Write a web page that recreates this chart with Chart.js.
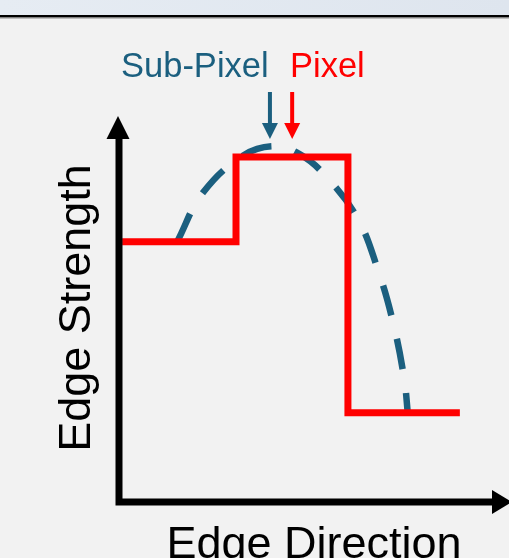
<!DOCTYPE html>
<html>
<head>
<meta charset="utf-8">
<script src="https://cdn.jsdelivr.net/npm/chart.js@4.4.1/dist/chart.umd.min.js"></script>
<style>
html, body { margin: 0; padding: 0; background: #f2f2f2; }
#wrap { width: 509px; height: 558px; }
</style>
</head>
<body>
<div id="wrap"><canvas id="edgeChart" width="509" height="558"></canvas></div>
<script>
// pixel edge profile (stepped)
const pixelX = [0.08, 3.0, 5.87, 8.74];
const pixelY = [6.74, 8.94, 2.31, 2.31];
// sub-pixel profile (dashed curve)
const subPixelX = [1.49, 2.15, 3.21, 4.0, 4.62, 5.23, 6.10, 6.64, 7.03, 7.31, 7.41];
const subPixelY = [6.74, 8.01, 8.99, 9.22, 9.02, 8.52, 7.38, 6.01, 4.64, 3.21, 2.25];
const markerLabels = ["Sub-Pixel", "Pixel"];
const markerX = [3.87, 4.44];
const axisTitles = ["Edge Direction", "Edge Strength"];

const BLUE = "#1b5f7f";
const RED = "#ff0000";
const FONT = "'Liberation Sans', Arial, sans-serif";

function toPoints(xs, ys) {
    return xs.map((x, i) => ({ x: x, y: ys[i] }));
}

function arrowHead(ctx, x, y, dir, w, len) {
    // dir: 'up', 'down', 'right'
    ctx.beginPath();
    if (dir == 'up') {
        ctx.moveTo(x, y); ctx.lineTo(x - w / 2, y + len); ctx.lineTo(x + w / 2, y + len);
    } else if (dir == 'down') {
        ctx.moveTo(x, y); ctx.lineTo(x - w / 2, y - len); ctx.lineTo(x + w / 2, y - len);
    } else {
        ctx.moveTo(x, y); ctx.lineTo(x - len, y - w / 2); ctx.lineTo(x - len, y + w / 2);
    }
    ctx.closePath();
    ctx.fill();
}

const decor = {
    id: 'decor',
    beforeDraw(chart) {
        const ctx = chart.ctx;
        ctx.save();
        ctx.fillStyle = "#f2f2f2";
        ctx.fillRect(0, 0, chart.width, chart.height);
        let g = ctx.createLinearGradient(0, 0, chart.width, 0);
        g.addColorStop(0, "#e6ecf3");
        g.addColorStop(1, "#dee5ee");
        ctx.fillStyle = g;
        ctx.fillRect(0, 0, chart.width, 15);
        ctx.fillStyle = "#000";
        ctx.fillRect(0, 15, chart.width, 2.5);
        ctx.fillStyle = "#8a8a8a";
        ctx.fillRect(0, 17.5, chart.width, 1);
        ctx.restore();
    },
    afterDatasetsDraw(chart) {
        const ctx = chart.ctx;
        const area = chart.chartArea;
        const xs = chart.scales.x;
        ctx.save();
        // axes with arrows
        ctx.strokeStyle = "#000";
        ctx.fillStyle = "#000";
        ctx.lineWidth = 7;
        ctx.lineCap = "butt";
        ctx.beginPath();
        ctx.moveTo(area.left, area.bottom + 3.5);
        ctx.lineTo(area.left, area.top + 20);
        ctx.moveTo(area.left - 3.5, area.bottom);
        ctx.lineTo(area.right - 15, area.bottom);
        ctx.stroke();
        arrowHead(ctx, area.left - 1, area.top, 'up', 23, 23);
        arrowHead(ctx, area.right + 3, area.bottom, 'right', 24, 20);

        // marker labels and arrows
        ctx.font = "34.5px " + FONT;
        ctx.textBaseline = "alphabetic";
        ctx.textAlign = "left";
        ctx.fillStyle = BLUE;
        ctx.fillText(markerLabels[0], 121, 77);
        ctx.fillStyle = RED;
        ctx.fillText(markerLabels[1], 290, 77);
        [BLUE, RED].forEach((c, i) => {
            const px = xs.getPixelForValue(markerX[i]);
            ctx.strokeStyle = c;
            ctx.fillStyle = c;
            ctx.lineWidth = 4;
            ctx.beginPath();
            ctx.moveTo(px, 92);
            ctx.lineTo(px, 126);
            ctx.stroke();
            arrowHead(ctx, px, 139, 'down', 16, 16);
        });

        // axis titles
        ctx.fillStyle = "#000";
        ctx.font = "45px " + FONT;
        ctx.textAlign = "center";
        ctx.fillText(axisTitles[0], 314, 558);
        ctx.translate(90, 308);
        ctx.rotate(-Math.PI / 2);
        ctx.fillText(axisTitles[1], 0, 0);
        ctx.restore();
    }
};

new Chart(document.getElementById("edgeChart").getContext("2d"), {
    type: 'line',
    data: {
        datasets: [
            {
                label: 'Pixel',
                data: toPoints(pixelX, pixelY),
                stepped: 'before',
                borderColor: RED,
                borderWidth: 7,
                borderJoinStyle: 'miter',
                borderCapStyle: 'butt',
                pointRadius: 0,
                fill: false,
            },
            {
                label: 'Sub-Pixel',
                data: toPoints(subPixelX, subPixelY),
                borderColor: BLUE,
                borderWidth: 6.5,
                borderDash: [31, 24],
                borderCapStyle: 'butt',
                tension: 0.4,
                pointRadius: 0,
                fill: false,
            },
        ],
    },
    options: {
        responsive: false,
        animation: false,
        devicePixelRatio: 1,
        layout: { padding: { left: 119, right: 0, top: 116, bottom: 56 } },
        plugins: { legend: { display: false }, tooltip: { enabled: false } },
        scales: {
            x: { type: 'linear', min: 0, max: 10, display: false },
            y: { type: 'linear', min: 0, max: 10, display: false },
        },
        elements: { line: { clip: false } },
    },
    plugins: [decor],
});
</script>
</body>
</html>
